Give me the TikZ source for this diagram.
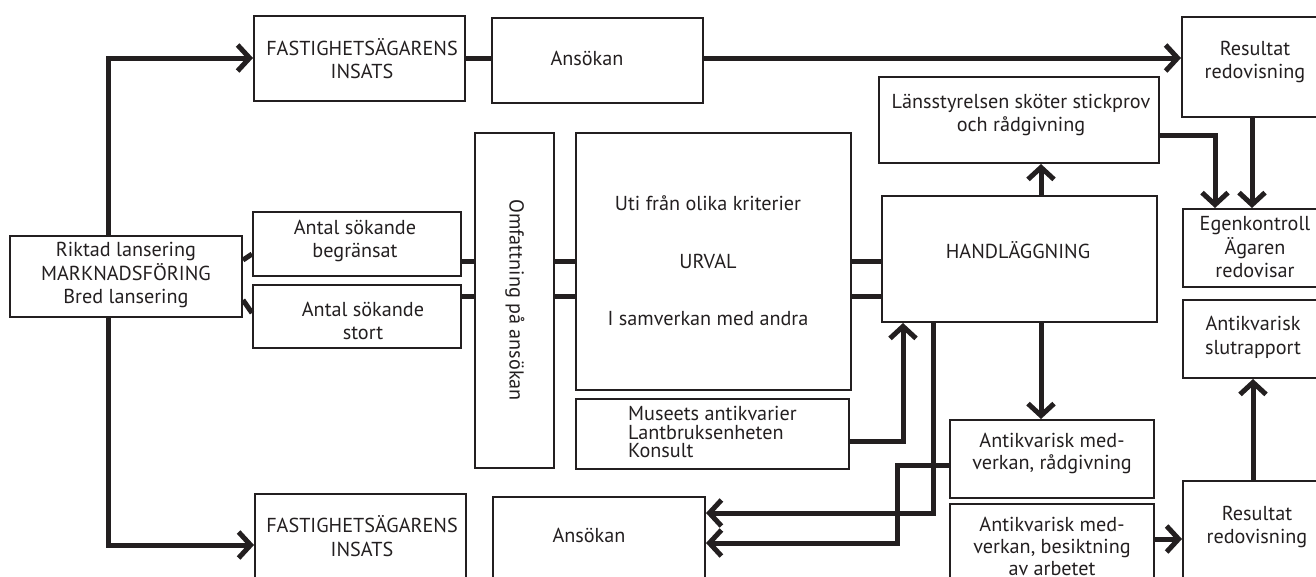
\documentclass[tikz,border=0pt]{standalone}
\usepackage{fontspec}
\setmainfont{PT Sans}
\usetikzlibrary{arrows.meta}
\definecolor{ink}{HTML}{231F20}
\tikzset{
  box/.style={draw=ink, line width=2pt, inner sep=0pt},
  txt/.style={text=ink, font=\fontsize{20.2}{23.5}\selectfont, align=center, inner sep=0pt},
  conn/.style={draw=ink, line width=5pt},
  arr/.style={conn, -{Straight Barb[length=12pt,width=26pt]}}
}
\newcommand\bx[5]{\node[box, minimum width={#4-#2}, minimum height={#5-#3}] (#1) at ({(#2+#4)/2},{(#3+#5)/2}) {};}
\begin{document}
\begin{tikzpicture}[x=1pt,y=-1pt]
\useasboundingbox (0,0) rectangle (1316,576);
\clip (0,0) rectangle (1316,576);
% boxes
\bx{fastT}{254}{16}{465}{101}
\bx{ansT}{492}{18}{703}{103}
\bx{resT}{1182}{17}{1332}{117}
\bx{lans}{879}{77}{1159}{163}
\bx{ego}{1183}{209}{1332}{287}
\bx{handl}{882}{196}{1157}{322}
\bx{rik}{10}{236}{242}{317}
\bx{begr}{253}{212}{461}{276}
\bx{stort}{253}{285}{461}{348}
\bx{omf}{475}{133}{554}{468}
\bx{urv}{576}{133}{851}{390}
\bx{mus}{576}{399}{849}{469}
\bx{radg}{950}{420}{1154}{498}
\bx{besk}{950}{504}{1154}{600}
\bx{slut}{1183}{300}{1332}{378}
\bx{resB}{1183}{481}{1332}{600}
\bx{fastB}{255}{494}{466}{600}
\bx{ansB}{493}{497}{705}{600}
% texts
\node[txt] (fastT-t) at (362,58.5) {FASTIGHETSÄGARENS\\INSATS};
\node[txt] (ansT-t) at (587,58) {Ansökan};
\node[txt] (resT-t) at (1255,62) {Resultat\\redovisning};
\node[txt] (lans-t) at (1021,115) {Länsstyrelsen sköter stickprov\\och rådgivning};
\node[txt] (ego-t) at (1255,247.5) {Egenkontroll\\Ägaren\\redovisar};
\node[txt] (handl-t) at (1018,250) {HANDLÄGGNING};
\node[txt] (rik-t) at (126,275) {Riktad lansering\\MARKNADSFÖRING\\Bred lansering};
\node[txt] (begr-t) at (355,241) {Antal sökande\\begränsat};
\node[txt] (stort-t) at (363,321) {Antal sökande\\stort};
\node[txt, rotate=-90] (omf-t) at (515,300) {Omfattning på ansökan};
\node[txt] (urv-t) at (708,261) {Uti från olika kriterier\\[34pt]URVAL\\[34pt]I samverkan med andra};
\node[txt, align=left, anchor=west, font=\fontsize{20.2}{18.5}\selectfont] (mus-t) at (628,432) {Museets antikvarier\\Lantbruksenheten\\Konsult};
\node[txt, font=\fontsize{20.2}{22}\selectfont] (radg-t) at (1052,453) {Antikvarisk med-\\verkan, rådgivning};
\node[txt, font=\fontsize{20.2}{22}\selectfont] (besk-t) at (1052,546) {Antikvarisk med-\\verkan, besiktning\\av arbetet};
\node[txt] (slut-t) at (1253,337.5) {Antikvarisk\\slutrapport};
\node[txt] (resB-t) at (1257,527) {Resultat\\redovisning};
\node[txt] (fastB-t) at (362,536) {FASTIGHETSÄGARENS\\INSATS};
\node[txt] (ansB-t) at (589,535) {Ansökan};
% connectors
\draw[conn] (fastT.east |- 0,58) -- (ansT.west |- 0,58);
\draw[arr] (ansT.east |- 0,58) -- (resT.west |- 0,58);
\draw[arr] (rik.north -| 108,0) |- (fastT.west |- 0,58);
\draw[arr] (rik.south -| 108,0) |- (fastB.west |- 0,545);
\draw[conn] (rik.east |- 0,260) -- (begr.west |- 0,254);
\draw[conn] (rik.east |- 0,300) -- (stort.west |- 0,313);
\draw[conn] (begr.east |- 0,261) -- (omf.west |- 0,261);
\draw[conn] (stort.east |- 0,296) -- (omf.west |- 0,296);
\draw[conn] (omf.east |- 0,261) -- (urv.west |- 0,261);
\draw[conn] (omf.east |- 0,296) -- (urv.west |- 0,296);
\draw[conn] (urv.east |- 0,261) -- (handl.west |- 0,261);
\draw[conn] (urv.east |- 0,296) -- (handl.west |- 0,296);
\draw[arr] (handl.north -| 1041,0) -- (lans.south -| 1041,0);
\draw[arr] (lans.east |- 0,135) -| (ego.north -| 1215,0);
\draw[arr] (resT.south -| 1252,0) -- (ego.north -| 1252,0);
\draw[arr] (mus.east |- 0,441) -| (handl.south -| 903,0);
\draw[arr] (handl.south -| 933,0) |- (ansB.east |- 0,513);
\draw[arr] (radg.west |- 0,465) -| (897,543) -- (ansB.east |- 0,543);
\draw[arr] (handl.south -| 1041,0) -- (radg.north -| 1041,0);
\draw[arr] (besk.east |- 0,539) -- (resB.west |- 0,539);
\draw[arr] (resB.north -| 1253,0) -- (slut.south -| 1253,0);
\end{tikzpicture}
\end{document}
